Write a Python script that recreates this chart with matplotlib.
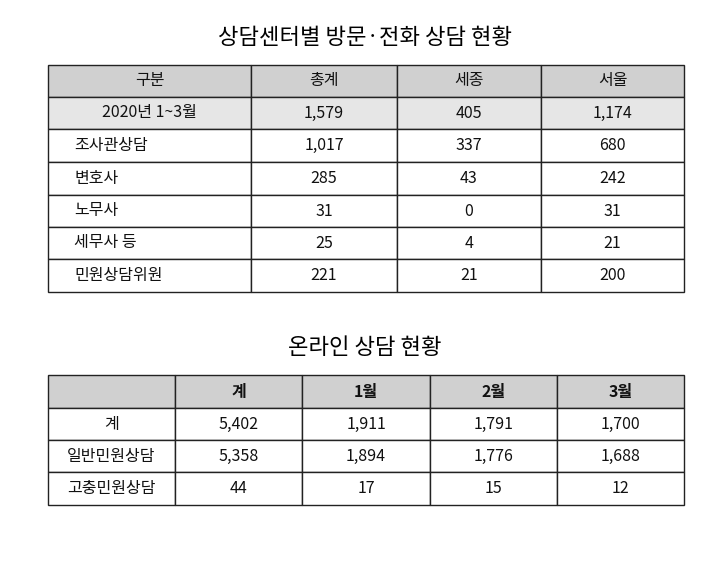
import matplotlib
matplotlib.use("Agg")
import matplotlib.pyplot as plt
from matplotlib.patches import Rectangle
from matplotlib import font_manager

_names = sorted({f.name for f in font_manager.fontManager.ttflist})
FONT = "DejaVu Sans"
for pref in ["Noto Sans CJK KR", "Noto Sans CJK SC", "Noto Sans CJK JP", "Noto Sans CJK TC"]:
    if pref in _names:
        FONT = pref
        break
else:
    for n in _names:
        if "CJK" in n:
            FONT = n
            break
plt.rcParams["font.family"] = [FONT, "DejaVu Sans"]

title1 = "상담센터별 방문·전화 상담 현황"
header1 = ["구분", "총계", "세종", "서울"]
rows1_labels = ["2020년 1~3월", "조사관상담", "변호사", "노무사", "세무사 등", "민원상담위원"]
total_vals = ["1,579", "1,017", "285", "31", "25", "221"]
sejong_vals = ["405", "337", "43", "0", "4", "21"]
seoul_vals = ["1,174", "680", "242", "31", "21", "200"]

title2 = "온라인 상담 현황"
header2 = ["", "계", "1월", "2월", "3월"]
rows2_labels = ["계", "일반민원상담", "고충민원상담"]
sum_vals = ["5,402", "5,358", "44"]
jan_vals = ["1,911", "1,894", "17"]
feb_vals = ["1,791", "1,776", "15"]
mar_vals = ["1,700", "1,688", "12"]

fig = plt.figure(figsize=(7.05, 5.64), dpi=100)
ax = fig.add_axes([0, 0, 1, 1])
ax.set_xlim(0, 705)
ax.set_ylim(564, 0)
ax.axis("off")

def draw_table(xs, ys, cells, fills, left_pad_cols):
    for r in range(len(ys) - 1):
        for c in range(len(xs) - 1):
            x0, x1, y0, y1 = xs[c], xs[c + 1], ys[r], ys[r + 1]
            ax.add_patch(Rectangle((x0, y0), x1 - x0, y1 - y0, facecolor=fills[r],
                                   edgecolor="#222222", linewidth=1.0))
            txt, weight = cells[r][c]
            if (r, c) in left_pad_cols:
                ax.text(x0 + 26, (y0 + y1) / 2, txt, ha="left", va="center",
                        fontsize=11.5, weight=weight, color="#111111")
            else:
                ax.text((x0 + x1) / 2, (y0 + y1) / 2, txt, ha="center", va="center",
                        fontsize=11.5, weight=weight, color="#111111")

# Table 1
ax.text(365, 38, title1, ha="center", va="center", fontsize=16)
xs1 = [48, 251, 397, 541, 684]
ys1 = [65, 97, 129, 162, 195, 227, 259, 292]
cells1 = [[(h, "normal") for h in header1]]
for i, lab in enumerate(rows1_labels):
    cells1.append([(lab, "normal"), (total_vals[i], "normal"),
                   (sejong_vals[i], "normal"), (seoul_vals[i], "normal")])
fills1 = ["#d0d0d0", "#e6e6e6"] + ["white"] * 5
left1 = {(r, 0) for r in range(2, 7)}
draw_table(xs1, ys1, cells1, fills1, left1)

# Table 2
ax.text(365, 347, title2, ha="center", va="center", fontsize=16)
xs2 = [48, 175, 302, 430, 557, 684]
ys2 = [375, 408, 440, 472, 505]
cells2 = [[(h, "bold") for h in header2]]
for i, lab in enumerate(rows2_labels):
    cells2.append([(lab, "normal"), (sum_vals[i], "normal"), (jan_vals[i], "normal"),
                   (feb_vals[i], "normal"), (mar_vals[i], "normal")])
fills2 = ["#d0d0d0"] + ["white"] * 3
draw_table(xs2, ys2, cells2, fills2, set())

fig.savefig("out.png", dpi=100)
